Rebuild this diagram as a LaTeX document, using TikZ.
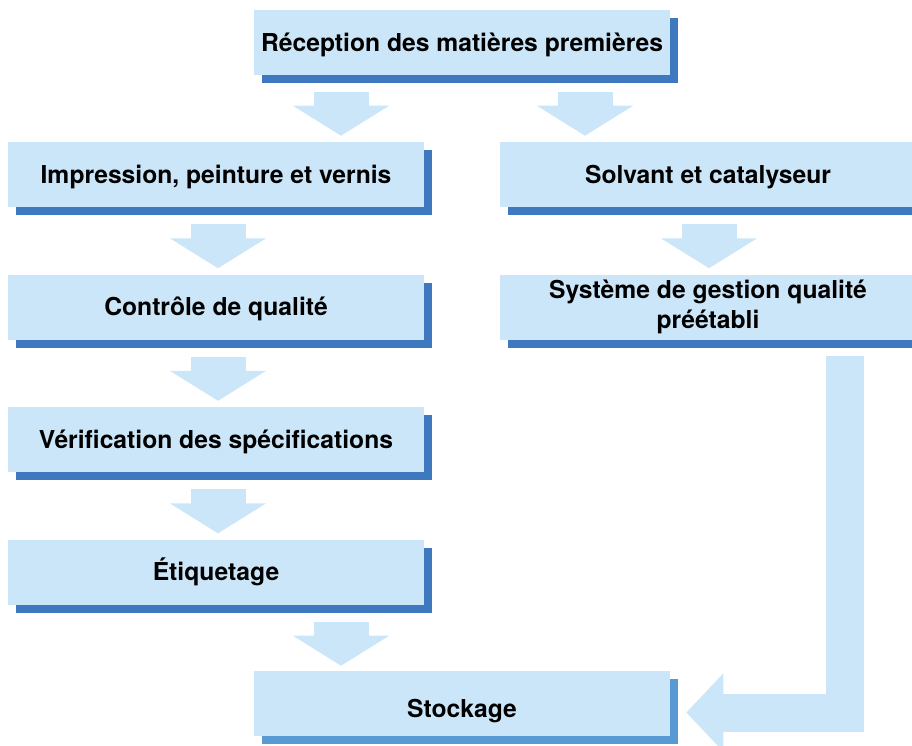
\documentclass[tikz,border=0pt]{standalone}
\usepackage{fontspec}
\setmainfont{TeX Gyre Heros}
\usetikzlibrary{positioning,calc,shadows,arrows.meta}

\definecolor{boxfill}{HTML}{CBE6F8}
\definecolor{shadeblue}{HTML}{3E78BE}
\definecolor{shadelight}{HTML}{5A9AD4}
\definecolor{arrowfill}{HTML}{CBE6F8}

\begin{document}
\begin{tikzpicture}[
  x=0.75pt, y=-0.75pt,
  node distance=50.25pt and 57pt,
  stepbox/.style={fill=boxfill, minimum width=312pt, minimum height=48.75pt,
    inner sep=0pt, align=center, font=\bfseries\fontsize{18.5}{22.5}\selectfont,
    drop shadow={shadow xshift=6pt, shadow yshift=-6pt, opacity=1, fill=#1}},
  stepbox/.default=shadeblue,
  oneline/.style={text height=13.3pt, text depth=0pt},
  flow/.style={draw=arrowfill, line width=41.25pt,
    -{Triangle[width=71.25pt, length=22.5pt]}},
  bentflow/.style={draw=arrowfill, line width=28.5pt, line join=miter,
    -{Triangle[width=57pt, length=27.75pt]}}
]
\useasboundingbox (0,0) rectangle (912,745);

\node[stepbox,oneline] (recep) at (462,42.5) {Réception des matières premières};
\node[stepbox,oneline] (impr) at (216,174.5) {Impression, peinture et vernis};
\node[stepbox,oneline] (solv) at (708,174.5) {Solvant et catalyseur};
\node[stepbox,oneline,below=of impr] (ctrl) {Contrôle de qualité};
\node[stepbox,oneline,below=of ctrl] (verif) {Vérification des spécifications};
\node[stepbox,oneline,below=of verif] (etiq) {Étiquetage};
\node[stepbox,below=of solv] (syst) {Système de gestion qualité\\préétabli};
\node[stepbox=shadelight,text height=20.8pt,text depth=0pt] (stock) at (462,703.5) {Stockage};

\draw[flow] ($(341,0 |- recep.south)+(0,17)$) -- ($(341,0 |- impr.north)+(0,-6)$);
\draw[flow] ($(585,0 |- recep.south)+(0,17)$) -- ($(585,0 |- solv.north)+(0,-6)$);
\draw[flow] ($(218,0 |- impr.south)+(0,17)$) -- ($(218,0 |- ctrl.north)+(0,-6)$);
\draw[flow] ($(218,0 |- ctrl.south)+(0,17)$) -- ($(218,0 |- verif.north)+(0,-6)$);
\draw[flow] ($(218,0 |- verif.south)+(0,17)$) -- ($(218,0 |- etiq.north)+(0,-6)$);
\draw[flow] ($(341,0 |- etiq.south)+(0,17)$) -- ($(341,0 |- stock.north)+(0,-5)$);
\draw[flow] ($(709,0 |- solv.south)+(0,17)$) -- ($(709,0 |- syst.north)+(0,-6)$);
\draw[bentflow] ($(845,0 |- syst.south)+(0,16)$) |- ($(stock.east)+(16,9)$);

\end{tikzpicture}
\end{document}
